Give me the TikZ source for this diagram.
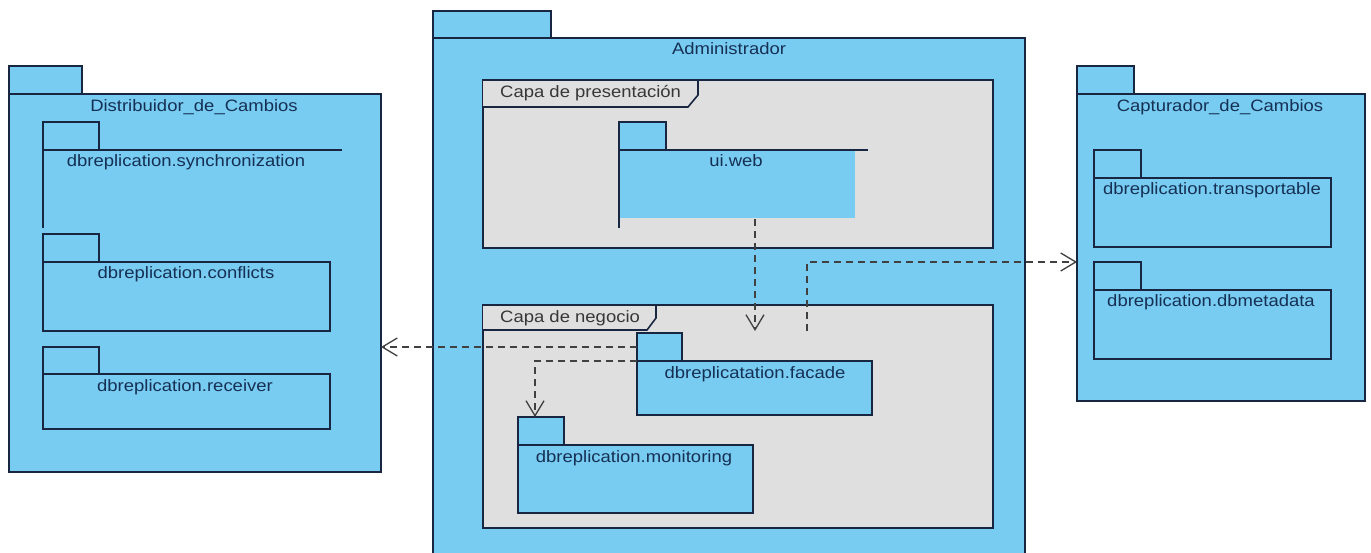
\documentclass[tikz,border=0pt]{standalone}
\usepackage{fontspec}
\setmainfont{Liberation Sans}[FakeStretch=1.12]
\usetikzlibrary{arrows.meta}
\definecolor{pkgblue}{RGB}{120,204,242}
\definecolor{framegray}{RGB}{223,223,223}
\definecolor{lineblue}{RGB}{25,38,66}
\definecolor{txtblue}{RGB}{22,48,84}
\definecolor{txtgray}{RGB}{55,55,55}
\begin{document}
\begin{tikzpicture}[x=1pt,y=-1pt,
 pkg/.style={draw=lineblue, fill=pkgblue, line width=1.6pt, rectangle, inner sep=0pt, outer sep=0pt, anchor=north west},
 frm/.style={draw=lineblue, fill=framegray, line width=1.6pt, rectangle, inner sep=0pt, outer sep=0pt, anchor=north west},
 edge/.style={draw=lineblue, line width=1.6pt},
 pname/.style={text=txtblue, font=\fontsize{16.5}{19}\selectfont, inner sep=0pt, anchor=base},
 fname/.style={text=txtgray, font=\fontsize{16.5}{19}\selectfont, inner sep=0pt, anchor=base west},
 dep/.style={draw=black!75, line width=1.3pt, dash pattern=on 7pt off 5pt, -{Straight Barb[length=15pt,width=18pt,line width=1.3pt]}}
]
\useasboundingbox[fill=white] (0,0) rectangle (1371,553);

% ---------- Distribuidor_de_Cambios ----------
\node[pkg, minimum width=73pt, minimum height=28pt] (dtab) at (9,66) {};
\node[pkg, minimum width=372pt, minimum height=378pt] (dist) at (9,94) {};
\node[pname] (distL) at (194,112) {Distribuidor\_de\_Cambios};
% synchronization (partially drawn)
\node[pkg, minimum width=56pt, minimum height=28pt] (stab) at (43,122) {};
\draw[edge] (342,150) -- (43,150) -- (43,228);
\node[pname] (syncL) at (186,167) {dbreplication.synchronization};
% conflicts
\node[pkg, minimum width=56pt, minimum height=28pt] (ctab) at (43,234) {};
\node[pkg, minimum width=287pt, minimum height=69pt] (conf) at (43,262) {};
\node[pname] (confL) at (186,279) {dbreplication.conflicts};
% receiver
\node[pkg, minimum width=56pt, minimum height=28pt] (rtab) at (43,347) {};
\node[pkg, minimum width=287pt, minimum height=55pt] (recv) at (43,374) {};
\node[pname] (recvL) at (185,391) {dbreplication.receiver};

% ---------- Administrador ----------
\node[pkg, minimum width=118pt, minimum height=27pt] (atab) at (433,11) {};
\fill[pkgblue] (433,38) rectangle (1025,556);
\draw[edge] (433,556) -- (433,38) -- (1025,38) -- (1025,556);
\node[pname] (adminL) at (729,55) {Administrador};

% Capa de presentacion
\node[frm, minimum width=510pt, minimum height=168pt] (pres) at (483,80) {};
\draw[edge, fill=framegray] (483,80) -- (698,80) -- (698,95) -- (688,107) -- (483,107);
\node[fname] (presL) at (500,98) {Capa de presentación};
% ui.web (partially drawn)
\fill[pkgblue] (619,150) rectangle (855,218);
\node[pkg, minimum width=47pt, minimum height=28pt] (utab) at (619,122) {};
\draw[edge] (868,150) -- (619,150) -- (619,228);
\node[pname] (uiL) at (736,167) {ui.web};

% Capa de negocio
\node[frm, minimum width=510pt, minimum height=223pt] (neg) at (483,305) {};
\draw[edge, fill=framegray] (483,305) -- (656,305) -- (656,318) -- (647,330) -- (483,330);
\node[fname] (negL) at (500,323) {Capa de negocio};
% facade
\node[pkg, minimum width=45pt, minimum height=28pt] (ftab) at (637,333) {};
\node[pkg, minimum width=235pt, minimum height=54pt] (fac) at (637,361) {};
\node[pname] (facL) at (755,378) {dbreplicatation.facade};
% monitoring
\node[pkg, minimum width=46pt, minimum height=28pt] (mtab) at (518,417) {};
\node[pkg, minimum width=235pt, minimum height=68pt] (mon) at (518,445) {};
\node[pname] (monL) at (634,462) {dbreplication.monitoring};

% ---------- Capturador_de_Cambios ----------
\node[pkg, minimum width=57pt, minimum height=28pt] (ktab) at (1077,66) {};
\node[pkg, minimum width=288pt, minimum height=307pt] (capt) at (1077,94) {};
\node[pname] (captL) at (1220,112) {Capturador\_de\_Cambios};
% transportable
\node[pkg, minimum width=47pt, minimum height=28pt] (ttab) at (1094,150) {};
\node[pkg, minimum width=237pt, minimum height=69pt] (trans) at (1094,178) {};
\node[pname] (transL) at (1212,195) {dbreplication.transportable};
% dbmetadata
\node[pkg, minimum width=47pt, minimum height=28pt] (dmtab) at (1094,262) {};
\node[pkg, minimum width=237pt, minimum height=69pt] (meta) at (1094,290) {};
\node[pname] (metaL) at (1211,307) {dbreplication.dbmetadata};

% ---------- dependencies ----------
\coordinate (uiout) at (755,219);
\coordinate (facin) at (755,331);
\coordinate (facout) at (807,331);
\draw[dep] (uiout) -- (facin);
\draw[dep] (facout) |- ([yshift=-14.5pt]capt.west);
\draw[dep] (ftab.west) -- (dist.east |- ftab.west);
\draw[dep] (ftab.south west) -| ([xshift=-6pt]mtab.north);
\end{tikzpicture}
\end{document}
